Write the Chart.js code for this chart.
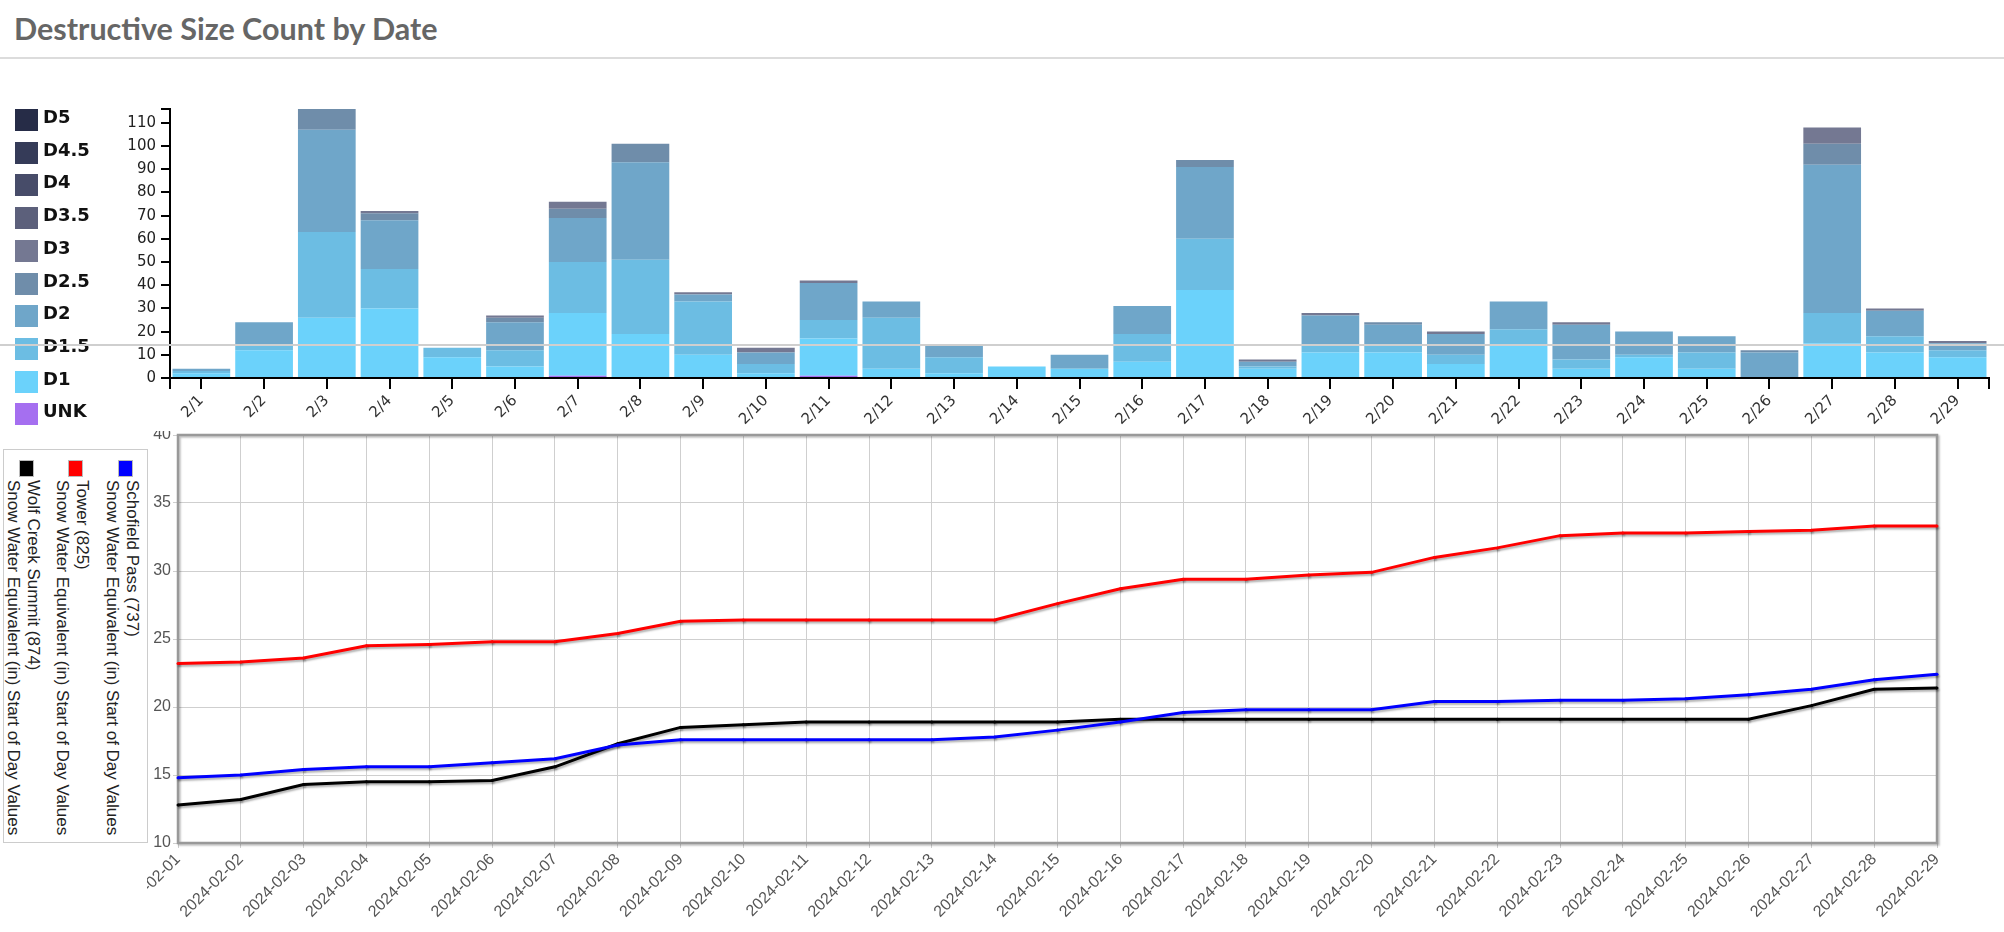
<!DOCTYPE html>
<html>
<head>
<meta charset="utf-8">
<script src="https://cdn.jsdelivr.net/npm/chart.js@4.4.1/dist/chart.umd.min.js"></script>
<style>
  body { margin: 0; width: 2004px; height: 932px; overflow: hidden; position: relative; background: #fff; font-family: "Liberation Sans", Arial, sans-serif; }
  .title { position: absolute; left: 14px; top: 13px; font: 700 30.5px/30.5px Lato, sans-serif; color: #666; white-space: nowrap; }
  .rule { position: absolute; left: 0; top: 57px; width: 2004px; height: 2px; background: #dcdcdc; }
  .bar-wrap { position: absolute; left: 0; top: 60px; width: 2004px; height: 380px; }
  .bar-legend-row { position: absolute; left: 15px; height: 23px; }
  .bar-legend-row .sw { position: absolute; left: 0; top: 0; width: 23px; height: 22px; }
  .bar-legend-row .lb { position: absolute; left: 28px; top: -1px; font: 700 18px/18px "DejaVu Sans", sans-serif; color: #111; white-space: nowrap; }
  .gray-line { position: absolute; left: 0; top: 344px; width: 2004px; height: 2px; background: #cfcfcf; }
  .line-panel { position: absolute; left: 0; top: 431px; width: 2004px; height: 501px; background: #fff; }
  .line-wrap { position: absolute; left: 147px; top: 0; width: 1857px; height: 501px; }
  .line-legend { position: absolute; left: 3px; top: 18px; width: 143px; height: 392px; border: 1px solid #ccc; }
  .entry { position: absolute; top: 0; width: 40px; height: 390px; }
  .entry .sw { position: absolute; left: 16px; top: 10px; width: 13px; height: 15px; border: 1px solid #bbb; }
  .entry .tx { position: absolute; left: 0; top: 30px; writing-mode: vertical-rl; font: 17px/20px "Liberation Sans", Arial, sans-serif; color: #222; white-space: nowrap; }
</style>
</head>
<body>
<div class="title">Destructive Size Count by Date</div>
<div class="rule"></div>
<div class="bar-wrap"><canvas id="barChart"></canvas></div>
<div id="barLegend"></div>
<div class="gray-line"></div>
<div class="line-panel">
  <div class="line-legend" id="lineLegend"></div>
  <div class="line-wrap"><canvas id="lineChart"></canvas></div>
</div>

<script>
// ---- avalanche counts by destructive size ----
const days = ['2/1','2/2','2/3','2/4','2/5','2/6','2/7','2/8','2/9','2/10','2/11','2/12','2/13','2/14','2/15',
  '2/16','2/17','2/18','2/19','2/20','2/21','2/22','2/23','2/24','2/25','2/26','2/27','2/28','2/29'];

const sizeNames  = ['UNK', 'D1', 'D1.5', 'D2', 'D2.5', 'D3', 'D3.5', 'D4', 'D4.5', 'D5'];
const sizeColors = ['#a56ff0', '#6bd2fb', '#6cbde3', '#6fa6c9', '#6f8daa', '#747892', '#5c607b', '#474c69', '#353b58', '#262c47'];

const unk = [0,0,0,0,0,0,1,0,0,0,1,0,0,0,0,0,0,0,0,0,0,0,0,0,0,0,0,0,0];
const d1  = [2,12,26,30,9,5,27,19,10,2,16,4,2,5,4,7,38,4,11,11,6,14,4,9,4,0,15,11,9];
const d15 = [1,2,37,17,4,7,22,32,23,4,8,22,7,0,0,12,22,1,3,3,4,7,4,1,7,0,13,7,3];
const d2  = [1,10,44,21,0,12,19,42,3,5,16,7,5,0,6,12,31,2,13,9,9,12,15,10,7,11,64,11,3];
const d25 = [0,0,9,3,0,2,4,8,0,0,0,0,0,0,0,0,3,0,0,1,0,0,0,0,0,1,9,0,0];
const d3  = [0,0,0,1,0,1,3,0,1,2,1,0,0,0,0,0,0,1,1,0,1,0,1,0,0,0,7,1,1];
const d35 = [0,0,0,0,0,0,0,0,0,0,0,0,0,0,0,0,0,0,0,0,0,0,0,0,0,0,0,0,0];
const d4  = [0,0,0,0,0,0,0,0,0,0,0,0,0,0,0,0,0,0,0,0,0,0,0,0,0,0,0,0,0];
const d45 = [0,0,0,0,0,0,0,0,0,0,0,0,0,0,0,0,0,0,0,0,0,0,0,0,0,0,0,0,0];
const d5  = [0,0,0,0,0,0,0,0,0,0,0,0,0,0,0,0,0,0,0,0,0,0,0,0,0,0,0,0,0];
const sizeSeries = [unk, d1, d15, d2, d25, d3, d35, d4, d45, d5];
const countTicks = [0,10,20,30,40,50,60,70,80,90,100,110];

// ---- snow water equivalent (in), start of day ----
const sweDates = ['2024-02-01','2024-02-02','2024-02-03','2024-02-04','2024-02-05','2024-02-06','2024-02-07',
  '2024-02-08','2024-02-09','2024-02-10','2024-02-11','2024-02-12','2024-02-13','2024-02-14','2024-02-15',
  '2024-02-16','2024-02-17','2024-02-18','2024-02-19','2024-02-20','2024-02-21','2024-02-22','2024-02-23',
  '2024-02-24','2024-02-25','2024-02-26','2024-02-27','2024-02-28','2024-02-29'];
const schofield = [14.8,15.0,15.4,15.6,15.6,15.9,16.2,17.2,17.6,17.6,17.6,17.6,17.6,17.8,18.3,18.9,19.6,19.8,19.8,19.8,20.4,20.4,20.5,20.5,20.6,20.9,21.3,22.0,22.4];
const tower     = [23.2,23.3,23.6,24.5,24.6,24.8,24.8,25.4,26.3,26.4,26.4,26.4,26.4,26.4,27.6,28.7,29.4,29.4,29.7,29.9,31.0,31.7,32.6,32.8,32.8,32.9,33.0,33.3,33.3];
const wolfCreek = [12.8,13.2,14.3,14.5,14.5,14.6,15.6,17.3,18.5,18.7,18.9,18.9,18.9,18.9,18.9,19.1,19.1,19.1,19.1,19.1,19.1,19.1,19.1,19.1,19.1,19.1,20.1,21.3,21.4];
const stationNames  = ['Schofield Pass (737)', 'Tower (825)', 'Wolf Creek Summit (874)'];
const stationColors = ['#0000ff', '#ff0000', '#000000'];
const sweLabel = 'Snow Water Equivalent (in) Start of Day Values';
const sweTicks = [10,15,20,25,30,35,40];

// bar legend, D5 on top
const barLegend = document.getElementById('barLegend');
sizeNames.slice().reverse().forEach((name, i) => {
    const row = document.createElement('div');
    row.className = 'bar-legend-row';
    row.style.top = (109 + i * 32.7) + 'px';
    row.innerHTML = `<div class="sw" style="background:${sizeColors[sizeNames.length - 1 - i]}"></div><div class="lb">${name}</div>`;
    barLegend.appendChild(row);
});

// d3 style outer ticks on the axis ends
const axisEnds = {
    id: 'axisEnds',
    afterDraw(chart) {
        const { ctx, chartArea: a } = chart;
        ctx.save();
        ctx.strokeStyle = '#000';
        ctx.lineWidth = 2;
        ctx.beginPath();
        ctx.moveTo(a.left - 9, a.top); ctx.lineTo(a.left, a.top);
        ctx.moveTo(a.left, a.bottom); ctx.lineTo(a.left, a.bottom + 11);
        ctx.moveTo(a.right, a.bottom); ctx.lineTo(a.right, a.bottom + 11);
        ctx.stroke();
        ctx.restore();
    }
};

new Chart(document.getElementById('barChart'), {
    type: 'bar',
    data: {
        labels: days,
        datasets: sizeSeries.map((vals, i) => ({
            label: sizeNames[i],
            data: vals,
            backgroundColor: sizeColors[i],
            borderWidth: 0,
            barPercentage: 0.92,
            categoryPercentage: 1
        }))
    },
    options: {
        responsive: true,
        maintainAspectRatio: false,
        animation: false,
        layout: { padding: { left: 0, right: 15, top: 49, bottom: 0 } },
        plugins: { legend: { display: false }, tooltip: { enabled: false } },
        scales: {
            x: {
                stacked: true,
                grid: { offset: false, drawOnChartArea: false, color: '#000', lineWidth: 2, tickLength: 11 },
                border: { color: '#000', width: 2 },
                ticks: { color: '#333', font: { family: 'DejaVu Sans', size: 15 }, minRotation: 45, maxRotation: 45, autoSkip: false, padding: 3 },
                afterFit(s) { s.height = 62; s.paddingLeft = 0; s.paddingRight = 0; }
            },
            y: {
                stacked: true,
                min: 0,
                max: 116,
                grid: { drawOnChartArea: false, color: '#000', lineWidth: 2, tickLength: 9 },
                border: { color: '#000', width: 2 },
                afterBuildTicks(s) { s.ticks = countTicks.map(v => ({ value: v })); },
                ticks: { color: '#222', font: { family: 'DejaVu Sans', size: 15 }, padding: 5 },
                afterFit(s) { s.width = 170; s.paddingTop = 0; s.paddingBottom = 0; }
            }
        }
    },
    plugins: [axisEnds]
});

// rotated legend of the SWE chart
const lineLegend = document.getElementById('lineLegend');
const entryCenters = [118, 68, 19];
stationNames.forEach((name, i) => {
    const e = document.createElement('div');
    e.className = 'entry';
    e.style.left = (entryCenters[i] - 20) + 'px';
    e.innerHTML = `<div class="sw" style="background:${stationColors[i]}"></div><div class="tx">${name}<br>${sweLabel}</div>`;
    lineLegend.appendChild(e);
});

const plotFrame = {
    id: 'plotFrame',
    beforeDatasetsDraw(chart) {
        const { ctx, chartArea: a } = chart;
        ctx.save();
        ctx.shadowColor = 'rgba(0,0,0,0.25)';
        ctx.shadowOffsetX = 1.5;
        ctx.shadowOffsetY = 1.5;
        ctx.shadowBlur = 2;
        ctx.strokeStyle = '#999';
        ctx.lineWidth = 2.5;
        ctx.strokeRect(a.left, a.top, a.right - a.left, a.bottom - a.top);
        ctx.restore();
    }
};

const lineShadow = {
    id: 'lineShadow',
    beforeDatasetDraw(chart) {
        const ctx = chart.ctx;
        ctx.save();
        ctx.shadowColor = 'rgba(0,0,0,0.3)';
        ctx.shadowOffsetX = 1;
        ctx.shadowOffsetY = 2;
        ctx.shadowBlur = 2;
    },
    afterDatasetDraw(chart) {
        chart.ctx.restore();
    }
};

new Chart(document.getElementById('lineChart'), {
    type: 'line',
    data: {
        labels: sweDates,
        datasets: [schofield, tower, wolfCreek].map((vals, i) => ({
            label: stationNames[i] + ' ' + sweLabel,
            data: vals,
            borderColor: stationColors[i],
            backgroundColor: stationColors[i],
            borderWidth: 3,
            pointRadius: 1.5,
            pointBorderWidth: 0,
            tension: 0,
            fill: false
        }))
    },
    options: {
        responsive: true,
        maintainAspectRatio: false,
        animation: false,
        layout: { padding: { left: 0, right: 67, top: 4, bottom: 0 } },
        plugins: { legend: { display: false }, tooltip: { enabled: false } },
        scales: {
            x: {
                offset: false,
                grid: { color: '#cfcfcf', lineWidth: 1, tickLength: 5 },
                border: { display: false },
                ticks: { color: '#555', font: { family: 'Liberation Sans', size: 16 }, minRotation: 45, maxRotation: 45, autoSkip: false, padding: 2 },
                afterFit(s) { s.height = 89; s.paddingLeft = 0; s.paddingRight = 0; }
            },
            y: {
                min: 10,
                max: 40,
                grid: { color: '#cfcfcf', lineWidth: 1, tickLength: 5 },
                border: { display: false },
                afterBuildTicks(s) { s.ticks = sweTicks.map(v => ({ value: v })); },
                ticks: { color: '#555', font: { family: 'Liberation Sans', size: 16 }, padding: 2 },
                afterFit(s) { s.width = 31; s.paddingTop = 0; s.paddingBottom = 0; }
            }
        }
    },
    plugins: [plotFrame, lineShadow]
});
</script>
</body>
</html>
